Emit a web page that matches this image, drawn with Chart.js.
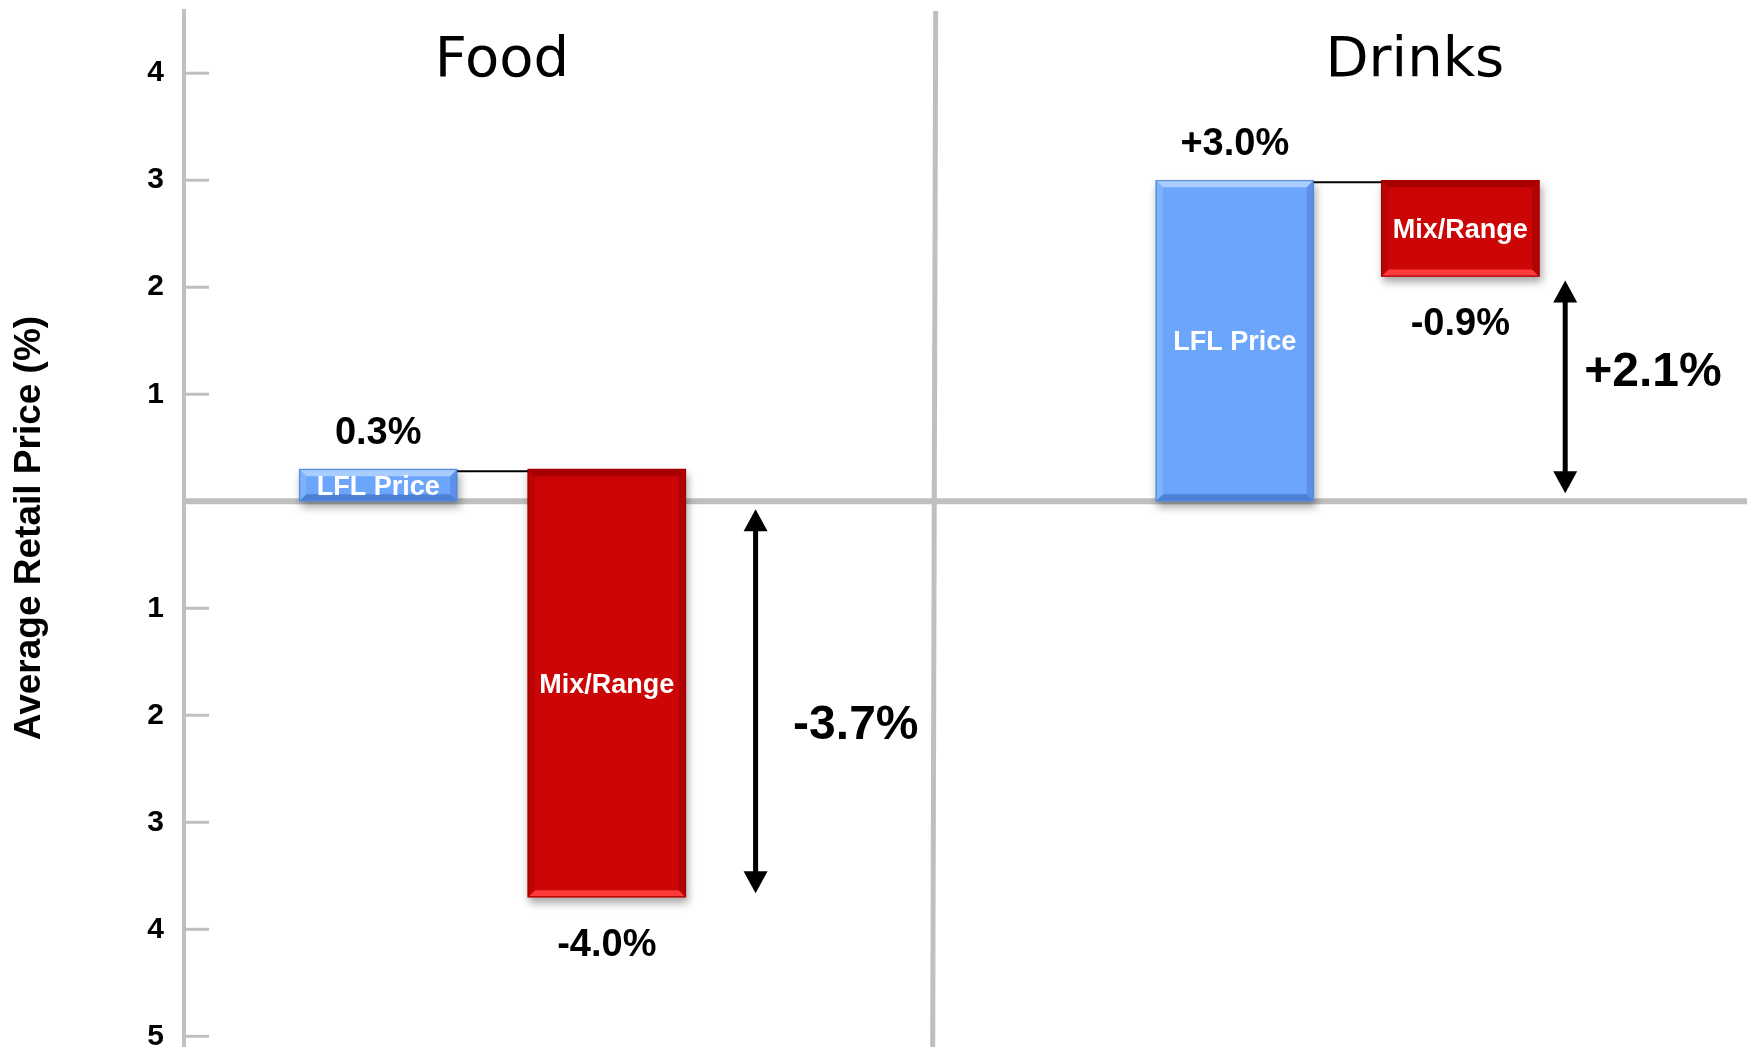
<!DOCTYPE html>
<html>
<head>
<meta charset="utf-8">
<title>Average Retail Price</title>
<script src="https://cdn.jsdelivr.net/npm/chart.js@4.4.1/dist/chart.umd.min.js"></script>
<style>
  html, body { margin: 0; padding: 0; background: #fff; }
  canvas { display: block; }
</style>
</head>
<body>
<canvas id="chart1" width="1750" height="1047"></canvas>
<script>
// price bridge per group, in %
const groups = ['Food', 'Drinks'];
const steps = ['LFL Price', 'Mix/Range'];
const lflChange = [0.3, 3.0];
const mixChange = [-4.0, -0.9];
const netChange = [-3.7, 2.1];
const lflText = ['0.3%', '+3.0%'];
const mixText = ['-4.0%', '-0.9%'];
const netText = ['-3.7%', '+2.1%'];
const yTicks = [4, 3, 2, 1, 0, -1, -2, -3, -4, -5];

// spots along the hidden x axis (0..100)
const lflX = [12.4, 67.1];
const mixX = [27.0, 81.5];
const titleX = [20.3, 78.6];
const arrowX = [36.5, 88.2];
const netX = [42.9, 93.8];
const netY = [-2.1, 1.2];
const splitX = 48.0;

const grey = '#bfbfbf';
const bold = size => 'bold ' + size + 'px "Liberation Sans", Arial, sans-serif';
const blueTone = { fill: '#6ca5fc', top: '#a9cdff', bottom: '#4c7fd6', left: '#7db2fd', right: '#5b90e6', edge: '#5585d4' };
const redTone = { fill: '#cc0606', top: '#a80000', bottom: '#ff3a3a', left: '#bb0404', right: '#b00303', edge: '#a00000' };

let ctx = document.getElementById('chart1').getContext('2d');

function arrow(c, x, y1, y2) {
  const head = 22, half = 12;
  const top = Math.min(y1, y2), bot = Math.max(y1, y2);
  c.strokeStyle = '#000';
  c.fillStyle = '#000';
  c.lineWidth = 5;
  c.beginPath(); c.moveTo(x, top + head - 2); c.lineTo(x, bot - head + 2); c.stroke();
  c.beginPath(); c.moveTo(x, top); c.lineTo(x - half, top + head); c.lineTo(x + half, top + head); c.closePath(); c.fill();
  c.beginPath(); c.moveTo(x, bot); c.lineTo(x - half, bot - head); c.lineTo(x + half, bot - head); c.closePath(); c.fill();
}

function quad(c, pts, col) {
  c.fillStyle = col;
  c.beginPath();
  c.moveTo(pts[0], pts[1]);
  for (let i = 2; i < pts.length; i += 2) c.lineTo(pts[i], pts[i + 1]);
  c.closePath();
  c.fill();
}

function bevel(c, l, t, r, b, tone) {
  const d = 7;
  quad(c, [l, t, r, t, r - d, t + d, l + d, t + d], tone.top);
  quad(c, [l, b, r, b, r - d, b - d, l + d, b - d], tone.bottom);
  quad(c, [l, t, l + d, t + d, l + d, b - d, l, b], tone.left);
  quad(c, [r, t, r - d, t + d, r - d, b - d, r, b], tone.right);
  c.strokeStyle = tone.edge;
  c.lineWidth = 1;
  c.strokeRect(l + 0.5, t + 0.5, r - l - 1, b - t - 1);
}

const decor = {
  id: 'decor',
  beforeDatasetsDraw(chart) {
    const c = chart.ctx, a = chart.chartArea;
    const xs = chart.scales.x, ys = chart.scales.y;
    const y0 = ys.getPixelForValue(0);
    c.save();
    c.strokeStyle = grey;
    c.lineWidth = 3;
    yTicks.filter(v => v !== 0).forEach(v => {
      const y = ys.getPixelForValue(v);
      c.beginPath(); c.moveTo(a.left, y); c.lineTo(a.left + 25, y); c.stroke();
    });
    c.lineWidth = 4;
    c.beginPath(); c.moveTo(a.left, a.top); c.lineTo(a.left, a.bottom); c.stroke();
    const sx = xs.getPixelForValue(splitX);
    c.lineWidth = 5;
    c.beginPath(); c.moveTo(sx, a.top + 2); c.lineTo(sx - 3, a.bottom); c.stroke();
    c.lineWidth = 6;
    c.beginPath(); c.moveTo(a.left, y0); c.lineTo(a.right - 3, y0); c.stroke();
    c.restore();
    // drop shadow for the bars
    c.save();
    c.shadowColor = 'rgba(0,0,0,0.35)';
    c.shadowBlur = 8;
    c.shadowOffsetX = 2;
    c.shadowOffsetY = 5;
  },
  afterDatasetsDraw(chart) {
    const c = chart.ctx, a = chart.chartArea;
    const xs = chart.scales.x, ys = chart.scales.y;
    c.restore();
    c.save();

    const lflBars = chart.getDatasetMeta(0).data;
    const mixBars = chart.getDatasetMeta(1).data;
    const box = bar => {
      const p = bar.getProps(['x', 'y', 'base', 'width'], true);
      return { l: p.x - p.width / 2, r: p.x + p.width / 2, t: Math.min(p.y, p.base), b: Math.max(p.y, p.base), x: p.x };
    };

    c.textAlign = 'center';
    c.textBaseline = 'middle';
    groups.forEach((g, i) => {
      const lb = box(lflBars[i]), mb = box(mixBars[i]);
      bevel(c, lb.l, lb.t, lb.r, lb.b, blueTone);
      bevel(c, mb.l, mb.t, mb.r, mb.b, redTone);

      // step names inside the bars
      c.fillStyle = '#fff';
      c.font = bold(27);
      c.fillText(steps[0], lb.x, (lb.t + lb.b) / 2 + 2);
      c.fillText(steps[1], mb.x, (mb.t + mb.b) / 2 + 2);

      // connector between the steps
      const yc = ys.getPixelForValue(lflChange[i]) + 2;
      c.strokeStyle = '#000';
      c.lineWidth = 2;
      c.beginPath(); c.moveTo(lb.r, yc); c.lineTo(mb.l, yc); c.stroke();

      // step values
      c.fillStyle = '#000';
      c.font = bold(38);
      c.fillText(lflText[i], lb.x, lb.t - 36);
      c.fillText(mixText[i], mb.x, mb.b + 48);

      // net change arrow
      const ax = xs.getPixelForValue(arrowX[i]);
      const y0 = ys.getPixelForValue(0), yn = ys.getPixelForValue(netChange[i]);
      const s = Math.sign(netChange[i]);
      arrow(c, ax, y0 - s * 8, yn + s * 4);
      c.fillStyle = '#000';
      c.font = bold(48);
      c.fillText(netText[i], xs.getPixelForValue(netX[i]), ys.getPixelForValue(netY[i]));

      // group heading
      c.font = '56px "DejaVu Sans", Verdana, sans-serif';
      c.fillText(g, xs.getPixelForValue(titleX[i]), a.top + 52);
    });
    c.restore();
  }
};

let myChart = new Chart(ctx, {
  type: 'bar',
  data: {
    datasets: [{
      label: steps[0],
      data: lflX.map((x, i) => ({ x: x, y: [0, lflChange[i]] })),
      backgroundColor: blueTone.fill,
      borderWidth: 0,
      barThickness: 158,
      grouped: false
    }, {
      label: steps[1],
      data: mixX.map((x, i) => ({ x: x, y: [lflChange[i], lflChange[i] + mixChange[i]] })),
      backgroundColor: redTone.fill,
      borderWidth: 0,
      barThickness: 158,
      grouped: false
    }]
  },
  options: {
    responsive: false,
    animation: false,
    layout: { padding: { top: 9 } },
    plugins: {
      legend: { display: false },
      tooltip: { enabled: false }
    },
    scales: {
      x: { type: 'linear', min: 0, max: 100, offset: false, display: false },
      y: {
        min: -5.1,
        max: 4.6,
        afterFit: s => { s.width = 184; s.paddingTop = 0; s.paddingBottom = 0; },
        afterBuildTicks: s => { s.ticks = yTicks.map(v => ({ value: v })); },
        grid: { display: false, drawTicks: false },
        border: { display: false },
        ticks: {
          padding: 20,
          color: '#000',
          font: { family: '"Liberation Sans", Arial, sans-serif', size: 30, weight: 'bold' },
          callback: v => Math.abs(v) || ''
        },
        title: {
          display: true,
          text: 'Average Retail Price (%)',
          color: '#000',
          padding: { top: 8, bottom: 0 },
          font: { family: '"Liberation Sans", Arial, sans-serif', size: 37, weight: 'bold' }
        }
      }
    }
  },
  plugins: [decor]
});
</script>
</body>
</html>
